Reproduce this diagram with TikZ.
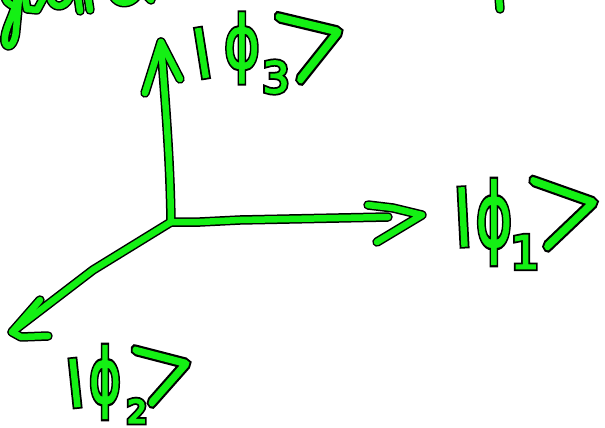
\documentclass[tikz,border=0pt]{standalone}
\usepackage{fontspec}
\newfontfamily\dvfont{DejaVu Sans}
\newfontfamily\lmfont{lmsans10-regular.otf}
\definecolor{hgreen}{RGB}{20,240,20}
% #1 font switch, #2 size, #3 green extra stroke, #4 black extra stroke, #5 text
\newcommand\hw[5]{{\fontsize{#2}{#2}#1%
  \pgfmathsetmacro\fbG{#3*100/#2}%
  \pgfmathsetmacro\fbK{#4*100/#2}%
  \rlap{\color{black}\edef\hwtmp{\noexpand\addfontfeatures{FakeBold=\fbK}}\hwtmp #5}%
  {\color{hgreen}\edef\hwtmp{\noexpand\addfontfeatures{FakeBold=\fbG}}\hwtmp #5}}}
\tikzset{
  glyph/.style={inner sep=0pt, outer sep=0pt, anchor=center},
  pen/.style={line cap=round, line join=round}
}
\begin{document}
\begin{tikzpicture}[x=1pt,y=-1pt]
\useasboundingbox (0,0) rectangle (605,428);
\fill[white] (0,0) rectangle (605,428);
\clip (0,0) rectangle (605,428);
\coordinate (o) at (171,222);
\coordinate (t1) at (422,215);
\coordinate (t2) at (12,332);
\coordinate (t3) at (161,42);
\foreach \c/\w in {black/9.5,hgreen/6.5}{
  % axes
  \draw[pen, draw=\c, line width=\w pt] (o) .. controls (170,150) and (164,90) .. (t3);
  \draw[pen, draw=\c, line width=\w pt] (145,93) -- (t3) -- (180,79);
  \draw[pen, draw=\c, line width=\w pt] (o) -- (200,222) -- (240,220) -- (388,217);
  \draw[pen, draw=\c, line width=\w pt] (368,205) -- (393,208) -- (t1) -- (377,242);
  \draw[pen, draw=\c, line width=\w pt] (o) -- (93,270) -- (t2);
  \draw[pen, draw=\c, line width=\w pt] (40,300) -- (t2) -- (21,337) -- (48,336);
  % cut-off handwriting at the top edge
  \draw[pen, draw=\c, line width=\w pt] (17,-3) .. controls (15,15) and (3,30) .. (5,42)
      .. controls (7,50) and (15,46) .. (16,30) .. controls (17,20) and (18,10) .. (19,-3);
  \draw[pen, draw=\c, line width=\w pt] (5,-3) .. controls (7,5) and (14,7) .. (18,4);
  \draw[pen, draw=\c, line width=\w pt] (25,-3) -- (27,9) -- (37,10) -- (44,-3);
  \draw[pen, draw=\c, line width=\w pt] (50,-3) .. controls (52,8) and (64,10) .. (70,-3);
  \draw[pen, draw=\c, line width=\w pt] (78,-3) -- (80,11);
  \draw[pen, draw=\c, line width=\w pt] (88,-3) -- (90,10);
  \draw[pen, draw=\c, line width=\w pt] (113,-4) .. controls (118,5) and (130,5) .. (137,-4);
  \draw[pen, draw=\c, line width=\w pt] (148,-3) -- (151,0);
  \draw[pen, draw=\c, line width=\w pt] (499,-3) -- (500,9);
}
% |phi_1>
\node[glyph, rotate=3] (b1) at (463,217) {\hw{\dvfont}{58}{1.6}{5.1}{|}};
\node[glyph, xscale=0.63] (p1) at (494,222) {\hw{\dvfont}{88}{1.0}{5.7}{ϕ}};
\node[glyph] (s1) at (525,252) {\hw{\dvfont}{46}{1.0}{4.5}{1}};
\node[glyph, rotate=12, yscale=1.3] (k1) at (567,208) {\hw{\lmfont}{95}{2.4}{5.9}{>}};
% |phi_3>
\node[glyph, rotate=9] (b3) at (202,53) {\hw{\dvfont}{48}{2.4}{5.9}{|}};
\node[glyph, xscale=0.75] (p3) at (242,48) {\hw{\dvfont}{73}{0.8}{4.8}{ϕ}};
\node[glyph] (s3) at (276,77) {\hw{\dvfont}{43}{1.2}{4.7}{3}};
\node[glyph, rotate=19, yscale=1.35] (k3) at (314,40) {\hw{\lmfont}{90}{2.5}{6}{>}};
% |phi_2>
\node[glyph, rotate=6] (b2) at (75,383) {\hw{\dvfont}{46}{2.6}{6.1}{|}};
\node[glyph, xscale=0.64] (p2) at (105,382) {\hw{\dvfont}{75}{1.5}{6.2}{ϕ}};
\node[glyph] (s2) at (137,411) {\hw{\dvfont}{31}{2.0}{5.5}{2}};
\node[glyph, rotate=17, yscale=1.3] (k2) at (165,370) {\hw{\lmfont}{78}{2.8}{6.3}{>}};
\end{tikzpicture}
\end{document}
